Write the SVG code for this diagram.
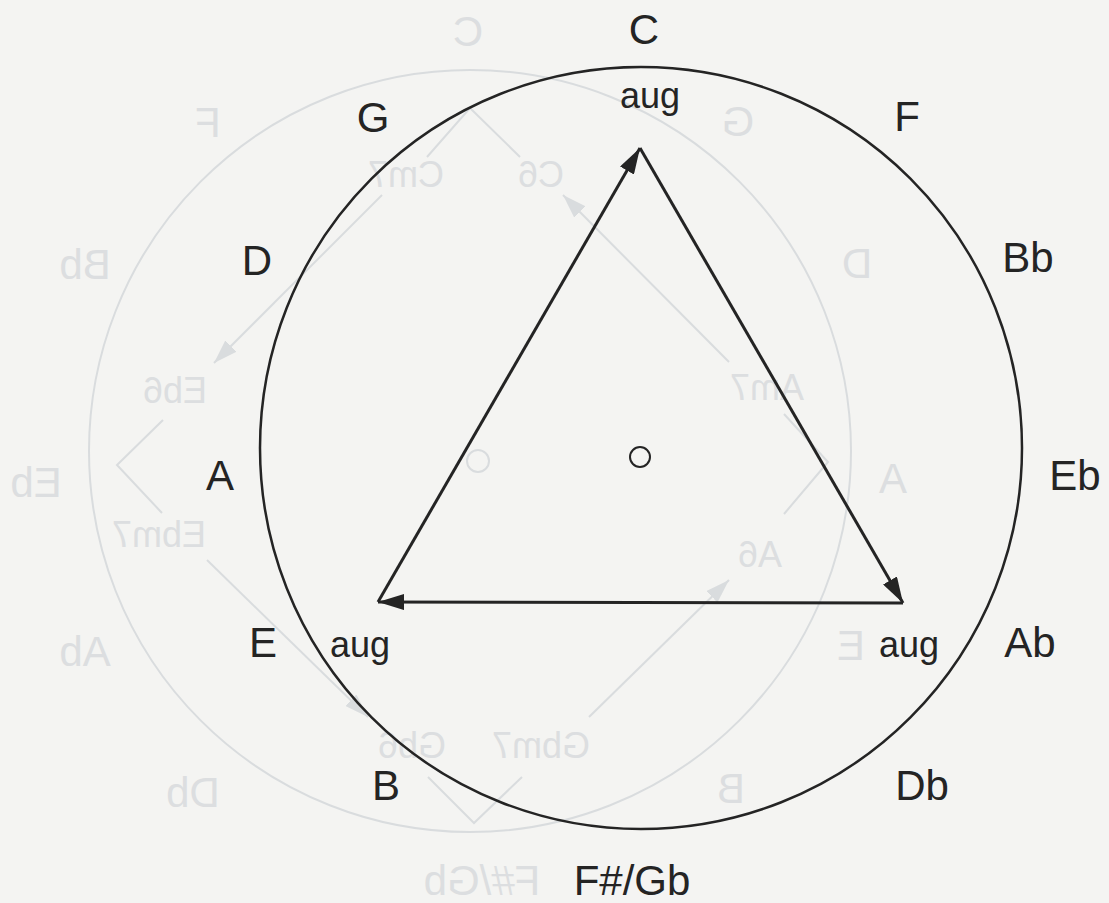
<svg xmlns="http://www.w3.org/2000/svg" width="1109" height="903" viewBox="0 0 1109 903">
<defs>
<style>
.bg{fill:#f4f4f2}
.note{font-family:"Liberation Sans",Arial,sans-serif;font-size:42px;fill:#242424;text-anchor:middle}
.aug{font-family:"Liberation Sans",Arial,sans-serif;font-size:36px;fill:#242424;text-anchor:middle}
.ring{fill:none;stroke:#242424;stroke-width:2.5}
.edge{fill:none;stroke:#242424;stroke-width:3}
.fn{font-family:"Liberation Sans",Arial,sans-serif;font-size:42px;fill:#dcdee0;text-anchor:middle}
.fc{font-family:"Liberation Sans",Arial,sans-serif;font-size:36px;fill:#dcdee0;text-anchor:middle}
.fl{fill:none;stroke:#d9dcde;stroke-width:2}
</style>
<marker id="ah" viewBox="0 0 26 16" refX="26" refY="8" markerWidth="26" markerHeight="16" markerUnits="userSpaceOnUse" orient="auto">
<path d="M0,0 L26,8 L0,16 z" fill="#242424"/>
</marker>
<marker id="fah" viewBox="0 0 24 16" refX="24" refY="8" markerWidth="24" markerHeight="16" markerUnits="userSpaceOnUse" orient="auto">
<path d="M0,0 L24,8 L0,16 z" fill="#d9dcde"/>
</marker>
</defs>
<rect class="bg" x="0" y="0" width="1109" height="903"/>

<g id="show-through">
<circle class="fl" cx="470" cy="451" r="381"/>
<circle class="fl" cx="478" cy="461" r="11"/>
<polyline class="fl" points="427,157 470,108 520,157"/>
<line class="fl" x1="382" y1="195" x2="214" y2="363" marker-end="url(#fah)"/>
<polyline class="fl" points="163,420 117,465 162,513"/>
<line class="fl" x1="207" y1="560" x2="368" y2="717" marker-end="url(#fah)"/>
<polyline class="fl" points="428,777 474,823 522,777"/>
<line class="fl" x1="589" y1="717" x2="729" y2="580" marker-end="url(#fah)"/>
<line class="fl" x1="729" y1="362" x2="563" y2="195" marker-end="url(#fah)"/>
<polyline class="fl" points="784,414 828,462 784,514"/>
<text class="fn" transform="translate(468,46) scale(-1,1)">C</text>
<text class="fn" transform="translate(738,136) scale(-1,1)">G</text>
<text class="fn" transform="translate(208,137) scale(-1,1)">F</text>
<text class="fn" transform="translate(857,278) scale(-1,1)">D</text>
<text class="fn" transform="translate(85,279) scale(-1,1)">Bb</text>
<text class="fn" transform="translate(893,493) scale(-1,1)">A</text>
<text class="fn" transform="translate(36,497) scale(-1,1)">Eb</text>
<text class="fn" transform="translate(851,660) scale(-1,1)">E</text>
<text class="fn" transform="translate(85,666) scale(-1,1)">Ab</text>
<text class="fn" transform="translate(731,803) scale(-1,1)">B</text>
<text class="fn" transform="translate(193,807) scale(-1,1)">Db</text>
<text class="fn" transform="translate(482,895) scale(-1,1)">F#/Gb</text>
<text class="fc" transform="translate(406,187) scale(-1,1)">Cm7</text>
<text class="fc" transform="translate(541,187) scale(-1,1)">C6</text>
<text class="fc" transform="translate(175,403) scale(-1,1)">Eb6</text>
<text class="fc" transform="translate(767,400) scale(-1,1)">Am7</text>
<text class="fc" transform="translate(159,547) scale(-1,1)">Ebm7</text>
<text class="fc" transform="translate(760,567) scale(-1,1)">A6</text>
<text class="fc" transform="translate(412,758) scale(-1,1)">Gb6</text>
<text class="fc" transform="translate(541,758) scale(-1,1)">Gbm7</text>
</g>

<g id="ring">
<circle class="ring" cx="641" cy="448" r="381"/>
<circle cx="640" cy="457" r="10" fill="none" stroke="#242424" stroke-width="2"/>
</g>

<g id="node-C"><text class="note" x="644" y="44">C</text><text class="aug" x="650" y="108">aug</text></g>
<g id="node-G"><text class="note" x="373" y="132">G</text></g>
<g id="node-F"><text class="note" x="907" y="131">F</text></g>
<g id="node-D"><text class="note" x="257" y="275">D</text></g>
<g id="node-Bb"><text class="note" x="1028" y="272">Bb</text></g>
<g id="node-A"><text class="note" x="220" y="490">A</text></g>
<g id="node-Eb"><text class="note" x="1075" y="490">Eb</text></g>
<g id="node-E"><text class="note" x="263" y="657">E</text><text class="aug" x="360" y="657">aug</text></g>
<g id="node-Ab"><text class="note" x="1030" y="657">Ab</text><text class="aug" x="909" y="657">aug</text></g>
<g id="node-B"><text class="note" x="386" y="800">B</text></g>
<g id="node-Db"><text class="note" x="922" y="800">Db</text></g>
<g id="node-FsGb"><text class="note" x="632" y="895">F#/Gb</text></g>

<g id="connectors">
<line class="edge" x1="378" y1="602" x2="640" y2="148" marker-end="url(#ah)"/>
<line class="edge" x1="640" y1="148" x2="903" y2="603" marker-end="url(#ah)"/>
<line class="edge" x1="903" y1="603" x2="378" y2="602" marker-end="url(#ah)"/>
</g>
</svg>
